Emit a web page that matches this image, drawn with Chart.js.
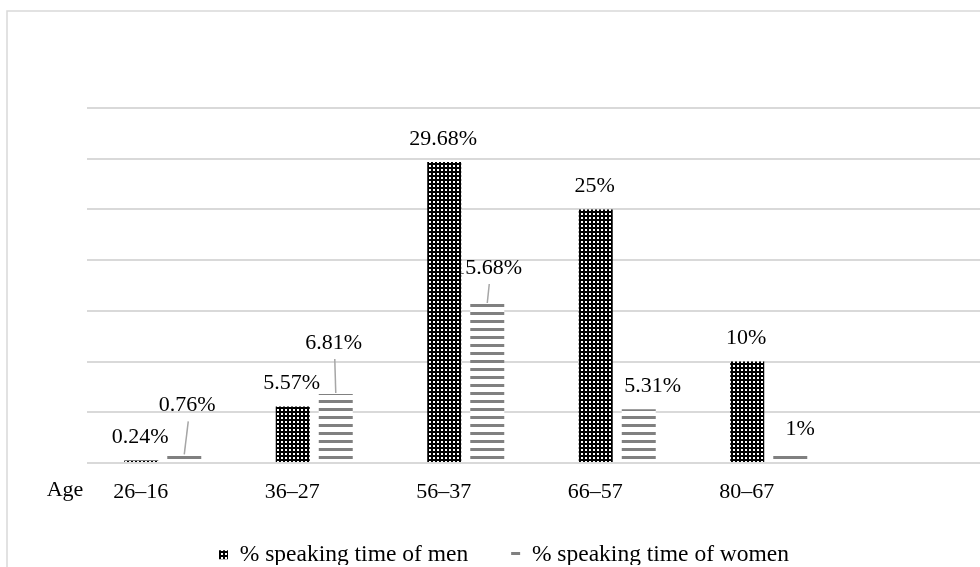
<!DOCTYPE html>
<html>
<head>
<meta charset="utf-8">
<script src="https://cdn.jsdelivr.net/npm/chart.js@4"></script>
<style>
  html, body { margin: 0; padding: 0; background: #fff; overflow: hidden; }
  #wrap { width: 996px; height: 567px; }
</style>
</head>
<body>
<div id="wrap"><canvas id="chart"></canvas></div>
<script>
// data
const categories = ['26–16', '36–27', '56–37', '66–57', '80–67'];
const menValues = [0.24, 5.57, 29.68, 25, 10];
const womenValues = [0.76, 6.81, 15.68, 5.31, 1];
const seriesNames = ['% speaking time of men', '% speaking time of women'];
const axisTitle = 'Age';
const yMax = 35;
const yStep = 5;

// where the women labels were moved to (relative to default spot), and leader lines
const womenLabelShift = [[3, -27], [-2, -28], [1, -13], [14, 0], [10, -1]];
const womenLeader = [true, true, true, false, false];

const FONT = { family: "'Liberation Serif', 'Times New Roman', serif", size: 22 };
const GRID = '#d9d9d9';

const canvas = document.getElementById('chart');
const ctx = canvas.getContext('2d');

function makePattern(w, h, draw) {
  const c = document.createElement('canvas');
  c.width = w; c.height = h;
  draw(c.getContext('2d'));
  return ctx.createPattern(c, 'repeat');
}

// black with small white dots
const menFill = makePattern(4, 4, g => {
  g.fillStyle = '#000'; g.fillRect(0, 0, 4, 4);
  g.fillStyle = '#fff'; g.fillRect(1, 1, 2, 2);
});
// grey horizontal stripes
const womenFill = makePattern(4, 8, g => {
  g.fillStyle = '#fff'; g.fillRect(0, 0, 4, 8);
  g.fillStyle = '#808080'; g.fillRect(0, 0, 4, 3);
});

function fmt(v) { return v + '%'; }

const labelPlugin = {
  id: 'labels',
  beforeDraw(chart) {
    const c = chart.ctx;
    c.save();
    c.strokeStyle = GRID;
    c.lineWidth = 1.5;
    c.beginPath();
    c.moveTo(7, chart.height);
    c.lineTo(7, 11);
    c.lineTo(chart.width, 11);
    c.stroke();
    c.restore();
  },
  // women labels go under the men bars (the 15.68% one is partly hidden)
  afterDatasetDraw(chart, args) {
    if (args.index !== 1) return;
    const c = chart.ctx;
    c.save();
    c.font = `${FONT.size}px ${FONT.family}`;
    c.fillStyle = '#000';
    c.textAlign = 'center';
    c.textBaseline = 'middle';
    args.meta.data.forEach((bar, i) => {
      if (womenValues[i] == null) return;
      const lx = bar.x + womenLabelShift[i][0];
      const ly = bar.y - 23 + womenLabelShift[i][1];
      if (womenLeader[i]) {
        c.strokeStyle = '#a6a6a6';
        c.lineWidth = 1.5;
        c.beginPath();
        c.moveTo(lx + 1, ly + 16);
        c.lineTo(bar.x, bar.y - 1);
        c.stroke();
      }
      c.fillText(fmt(womenValues[i]), lx, ly);
    });
    c.restore();
  },
  afterDatasetsDraw(chart) {
    const c = chart.ctx;
    c.save();
    c.font = `${FONT.size}px ${FONT.family}`;
    c.fillStyle = '#000';
    c.textAlign = 'center';
    c.textBaseline = 'middle';
    chart.getDatasetMeta(0).data.forEach((bar, i) => {
      if (menValues[i] == null) return;
      c.fillText(fmt(menValues[i]), bar.x - 1, bar.y - 23);
    });
    c.fillText(axisTitle, 65, chart.chartArea.bottom + 27);
    c.restore();
  }
};

new Chart(ctx, {
  type: 'bar',
  data: {
    labels: [...categories, ''],
    datasets: [
      { label: seriesNames[0], data: menValues, backgroundColor: menFill, borderWidth: 0,
        barPercentage: 0.79, categoryPercentage: 0.568 },
      { label: seriesNames[1], data: womenValues, backgroundColor: womenFill, borderWidth: 0,
        barPercentage: 0.79, categoryPercentage: 0.568 }
    ]
  },
  options: {
    responsive: true,
    maintainAspectRatio: false,
    animation: false,
    layout: { padding: { top: 108, bottom: 2, left: 12, right: 0 } },
    plugins: {
      legend: {
        position: 'bottom',
        maxHeight: 65,
        labels: { boxWidth: 9, boxHeight: 9, padding: 43, color: '#000',
                  font: { family: FONT.family, size: 23.5 } }
      },
      tooltip: { enabled: false }
    },
    scales: {
      x: {
        grid: { display: false, drawTicks: false },
        border: { display: false },
        ticks: { color: '#000', font: FONT, padding: 16, labelOffset: -22, maxRotation: 0, autoSkip: false },
        afterFit: s => { s.height = 37; }
      },
      y: {
        min: 0,
        max: yMax,
        ticks: { stepSize: yStep, display: false },
        grid: { color: GRID, lineWidth: 2, drawTicks: false },
        border: { display: false },
        afterFit: s => { s.width = 75; }
      }
    }
  },
  plugins: [labelPlugin]
});
</script>
</body>
</html>
